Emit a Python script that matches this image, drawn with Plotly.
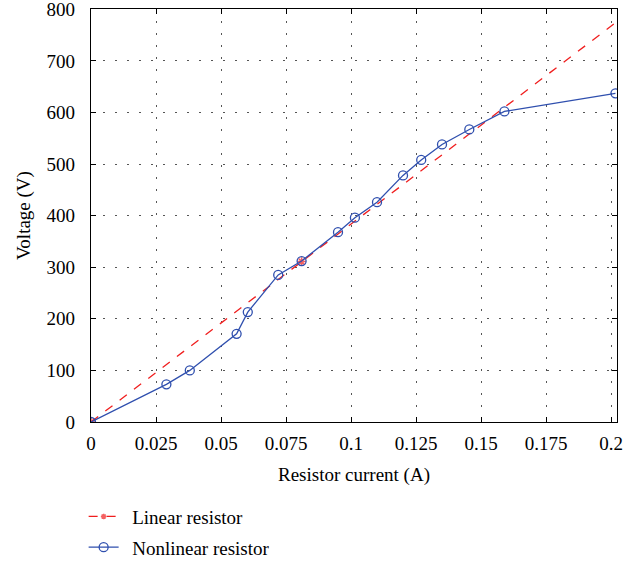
import plotly.graph_objects as go

# Data
lin_current = [0.0, 0.081, 0.2023]
lin_voltage = [0.0, 311.0, 776.0]

nl_current = [0.0, 0.029, 0.038, 0.056, 0.0603, 0.072, 0.081, 0.095, 0.1015, 0.110,
              0.120, 0.127, 0.135, 0.1455, 0.159, 0.2017]
nl_voltage = [0.0, 73.0, 100.0, 171.0, 213.0, 285.0, 312.0, 368.0, 396.0, 426.0,
              478.0, 508.0, 538.0, 567.0, 602.0, 637.0]

x_ticks = [0, 0.025, 0.05, 0.075, 0.1, 0.125, 0.15, 0.175, 0.2]
x_ticktext = ["0", "0.025", "0.05", "0.075", "0.1", "0.125", "0.15", "0.175", "0.2"]
y_ticks = [0, 100, 200, 300, 400, 500, 600, 700, 800]

RED = "#f01e1e"
BLUE = "#2f4fae"
FONT = "Liberation Serif"
PAD = "\u00a0\u2009"

fig = go.Figure()
fig.add_trace(go.Scatter(
    x=lin_current, y=lin_voltage, name=PAD + "Linear resistor",
    mode="lines+markers", legendgroup="a",
    line=dict(color=RED, width=1.3, dash="dash"),
    marker=dict(symbol="asterisk-open", size=[7, 7, 0], color=RED,
                line=dict(color=RED, width=1.5)),
))
fig.add_trace(go.Scatter(
    x=nl_current, y=nl_voltage, name=PAD + "Nonlinear resistor",
    mode="lines+markers", legendgroup="b",
    line=dict(color=BLUE, width=1.3),
    marker=dict(symbol="circle-open", size=9, color=BLUE,
                line=dict(color=BLUE, width=1.3)),
))

axis_common = dict(
    showline=True, linecolor="black", linewidth=1.2, mirror="ticks",
    ticks="inside", ticklen=5, tickcolor="black",
    showgrid=True, gridcolor="#555555", gridwidth=1.2, griddash="1.5px,10.5px",
    zeroline=False, tickfont=dict(family=FONT, size=19, color="black"),
    automargin=False, ticklabeloverflow="allow",
)

fig.update_xaxes(range=[0, 0.2023], tickvals=x_ticks, ticktext=x_ticktext,
                 ticklabelstandoff=4,
                 title=dict(text="Resistor current (A)", font=dict(family=FONT, size=19, color="black"), standoff=14),
                 **axis_common)
fig.update_yaxes(range=[0, 800.5], tickvals=y_ticks, ticklabelstandoff=11,
                 title=dict(text="Voltage (V)", font=dict(family=FONT, size=19, color="black"), standoff=10),
                 **axis_common)

fig.update_layout(
    width=636, height=561, autosize=False,
    margin=dict(l=91, r=19, t=9, b=139, autoexpand=False),
    plot_bgcolor="white", paper_bgcolor="white",
    font=dict(family=FONT, color="black"),
    legend=dict(x=-0.014, y=-0.183, xanchor="left", yanchor="top",
                font=dict(family=FONT, size=19, color="black"),
                bgcolor="rgba(0,0,0,0)", itemwidth=30, tracegroupgap=3),
    showlegend=True,
)

fig.write_html("out.html", config={"displayModeBar": False},
               post_script="document.body.style.margin='0';")
